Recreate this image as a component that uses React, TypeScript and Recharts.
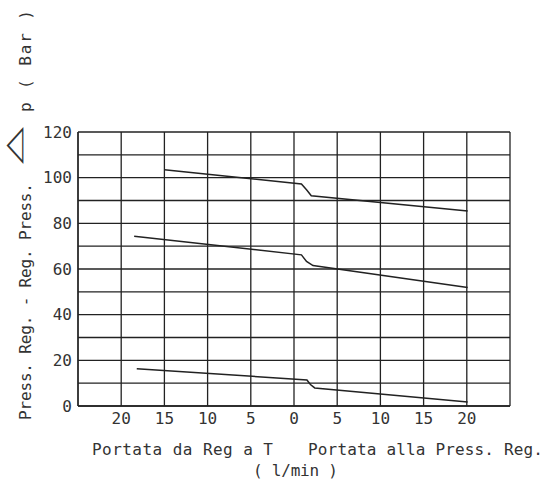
import { LineChart, Line, XAxis, YAxis, CartesianGrid } from "recharts";

// flow (l/min): negative = Reg -> T, positive = Press -> Reg
const highFlow = [-15, 0.86, 1.45, 2.0, 20.1];
const highPress = [103.5, 97.2, 94.7, 92.1, 85.4];
const midFlow = [-18.5, 0.86, 1.45, 2.2, 20.1];
const midPress = [74.3, 66.2, 63.3, 61.5, 51.9];
const lowFlow = [-18.2, 1.5, 1.9, 2.4, 20.1];
const lowPress = [16.3, 11.4, 9.4, 7.9, 1.75];

const xTicks = [-25, -20, -15, -10, -5, 0, 5, 10, 15, 20, 25];
const yTicks = [0, 10, 20, 30, 40, 50, 60, 70, 80, 90, 100, 110, 120];

const toPoints = (flow: number[], press: number[]) =>
  flow.map((x, i) => ({ x, y: press[i] }));

const FONT = "'DejaVu Sans Mono', monospace";
const INK = "#222";

function XLabel() {
  return (
    <g fontFamily={FONT} fontSize={16} fill="#333">
      <text x={92} y={455} textLength={181} lengthAdjust="spacing">
        Portata da Reg a T
      </text>
      <text x={308} y={455} textLength={235} lengthAdjust="spacing">
        Portata alla Press. Reg.
      </text>
      <text x={253} y={476} textLength={85} lengthAdjust="spacing">
        ( l/min )
      </text>
    </g>
  );
}

function YLabel() {
  return (
    <g fontFamily={FONT} fontSize={16} fill="#333">
      <text transform="translate(31,420) rotate(-90)" textLength={237} lengthAdjust="spacing">
        Press. Reg. - Reg. Press.
      </text>
      <text
        transform="translate(15,141) scale(0.5,1.1)"
        textAnchor="middle"
        dominantBaseline="central"
        fontFamily="'DejaVu Sans', sans-serif"
        fontSize={44}
        fill="#333"
      >
        ◁
      </text>
      <text transform="translate(31,112) rotate(-90)" textLength={102} lengthAdjust="spacing">
        p ( Bar )
      </text>
    </g>
  );
}

export default function App() {
  return (
    <div style={{ position: "absolute", left: 0, top: 0, background: "#fff" }}>
      <LineChart width={555} height={482} margin={{ top: 132, right: 45, left: 0, bottom: 0 }}>
        <CartesianGrid stroke={INK} strokeWidth={1.3} />
        <XAxis
          type="number"
          dataKey="x"
          domain={[-25, 25]}
          ticks={xTicks}
          interval={0}
          height={76}
          tickLine={false}
          tickSize={0}
          tickMargin={7}
          axisLine={{ stroke: INK, strokeWidth: 1.3 }}
          tick={{ fontSize: 16, fontFamily: FONT, fill: "#333" }}
          tickFormatter={(v: number) => (Math.abs(v) === 25 ? "" : String(Math.abs(v)))}
          label={XLabel}
        />
        <YAxis
          type="number"
          domain={[0, 120]}
          ticks={yTicks}
          interval={0}
          width={78}
          tickLine={false}
          tickSize={0}
          tickMargin={6}
          axisLine={{ stroke: INK, strokeWidth: 1.3 }}
          tick={{ fontSize: 16, fontFamily: FONT, fill: "#333" }}
          tickFormatter={(v: number) => (v % 20 === 0 ? String(v) : "")}
          label={YLabel}
        />
        <Line data={toPoints(highFlow, highPress)} dataKey="y" type="linear" stroke={INK} strokeWidth={1.5} dot={false} isAnimationActive={false} />
        <Line data={toPoints(midFlow, midPress)} dataKey="y" type="linear" stroke={INK} strokeWidth={1.5} dot={false} isAnimationActive={false} />
        <Line data={toPoints(lowFlow, lowPress)} dataKey="y" type="linear" stroke={INK} strokeWidth={1.5} dot={false} isAnimationActive={false} />
      </LineChart>
    </div>
  );
}
